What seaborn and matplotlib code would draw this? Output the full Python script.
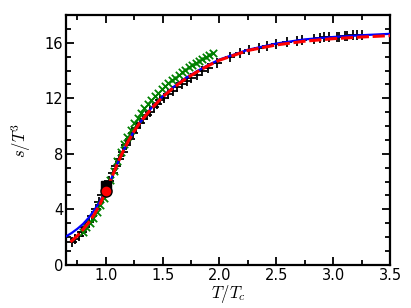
import numpy as np
import pandas as pd
import matplotlib
matplotlib.use("Agg")
import matplotlib.pyplot as plt
import seaborn as sns
from matplotlib.ticker import MultipleLocator

# ---- data ----
curve_T = [0.65, 0.70, 0.75, 0.80, 0.85, 0.90, 0.95, 1.00, 1.05, 1.10, 1.15, 1.20, 1.25, 1.30,
           1.40, 1.50, 1.60, 1.70, 1.80, 1.90, 2.00, 2.25, 2.50, 2.75, 3.00, 3.25, 3.50]
blue_s = [2.05, 2.30, 2.60, 2.95, 3.40, 3.95, 4.60, 5.35, 6.25, 7.25, 8.15, 8.95, 9.65, 10.25,
          11.30, 12.15, 12.85, 13.45, 13.95, 14.40, 14.80, 15.50, 15.95, 16.25, 16.42, 16.55, 16.65]
red_T = [0.69, 0.75, 0.80, 0.85, 0.90, 0.95, 1.00, 1.05, 1.10, 1.15, 1.20, 1.25, 1.30,
         1.40, 1.50, 1.60, 1.70, 1.80, 1.90, 2.00, 2.25, 2.50, 2.75, 3.00, 3.25, 3.50]
red_s = [1.65, 2.10, 2.55, 3.05, 3.65, 4.40, 5.30, 6.25, 7.25, 8.15, 8.95, 9.65, 10.25,
         11.25, 12.10, 12.80, 13.40, 13.90, 14.35, 14.75, 15.45, 15.85, 16.12, 16.30, 16.42, 16.52]

black_T = [0.70, 0.73, 0.76, 0.79, 0.82, 0.85, 0.88, 0.91, 0.94, 0.97, 1.00, 1.03, 1.06, 1.09,
           1.12, 1.15, 1.18, 1.21, 1.24, 1.27, 1.30, 1.33, 1.36, 1.39, 1.42, 1.45, 1.48, 1.51,
           1.55, 1.59, 1.63, 1.67, 1.71, 1.75, 1.80, 1.85, 1.90, 1.98, 2.09, 2.18, 2.26, 2.35,
           2.42, 2.50, 2.59, 2.68, 2.73, 2.83, 2.88, 2.92, 2.96, 3.03, 3.05, 3.10, 3.12, 3.17,
           3.21, 3.25]
black_s = [1.65, 1.85, 2.10, 2.40, 2.75, 3.10, 3.55, 4.05, 4.55, 5.05, 5.55, 6.05, 6.60, 7.10,
           7.65, 8.15, 8.65, 9.10, 9.50, 9.85, 10.20, 10.50, 10.80, 11.05, 11.35, 11.60, 11.85,
           12.05, 12.30, 12.55, 12.80, 13.05, 13.25, 13.45, 13.70, 13.95, 14.20, 14.55, 14.95,
           15.25, 15.45, 15.65, 15.80, 15.95, 16.05, 16.15, 16.20, 16.30, 16.35, 16.40, 16.40,
           16.45, 16.45, 16.50, 16.50, 16.55, 16.55, 16.55]

green_T = [0.80, 0.83, 0.86, 0.89, 0.92, 0.95, 0.98, 1.01, 1.04, 1.07, 1.10, 1.13, 1.16, 1.19,
           1.22, 1.25, 1.28, 1.31, 1.34, 1.37, 1.40, 1.43, 1.46, 1.49, 1.52, 1.55, 1.58, 1.61,
           1.64, 1.67, 1.70, 1.73, 1.76, 1.79, 1.82, 1.85, 1.88, 1.91, 1.94]
green_s = [2.40, 2.70, 3.00, 3.40, 3.80, 4.30, 4.85, 5.45, 6.10, 6.80, 7.45, 8.10, 8.70, 9.25,
           9.75, 10.20, 10.60, 10.95, 11.30, 11.60, 11.90, 12.15, 12.40, 12.65, 12.90, 13.10,
           13.30, 13.50, 13.70, 13.90, 14.05, 14.25, 14.40, 14.55, 14.70, 14.85, 15.00, 15.15,
           15.25]

square_pt = ([1.0], [5.65])
circle_pt = ([1.0], [5.35])

# ---- style ----
sns.set_style("ticks", {"xtick.direction": "in", "ytick.direction": "in",
                        "axes.edgecolor": "black", "text.color": "black",
                        "xtick.color": "black", "ytick.color": "black",
                        "axes.labelcolor": "black"})
plt.rcParams["font.family"] = ["DejaVu Sans"]
plt.rcParams["mathtext.fontset"] = "cm"

fig = plt.figure(figsize=(4.11, 3.08), dpi=100)
ax = fig.add_axes([0.1606, 0.140, 0.7884, 0.811])

sns.lineplot(x=curve_T, y=blue_s, ax=ax, color="blue", lw=1.6, sort=False, zorder=3)
sns.lineplot(x=red_T, y=red_s, ax=ax, color="red", lw=2.2, sort=False, zorder=4,
             linestyle=(0, (4, 1.2)))
sns.scatterplot(x=black_T, y=black_s, ax=ax, marker="+", color="black", s=45,
                linewidth=1.3, zorder=2)
sns.scatterplot(x=green_T, y=green_s, ax=ax, marker="x", color="green", s=28,
                linewidth=1.3, zorder=2)
ax.plot(*square_pt, marker="s", color="black", ms=7, ls="none", zorder=5)
ax.plot(*circle_pt, marker="o", color="red", mec="black", mew=1.0, ms=8, ls="none", zorder=6)

ax.set_xlim(0.65, 3.5)
ax.set_ylim(0, 18)
ax.xaxis.set_major_locator(MultipleLocator(0.5))
ax.xaxis.set_minor_locator(MultipleLocator(0.25))
ax.yaxis.set_major_locator(MultipleLocator(4))
ax.yaxis.set_minor_locator(MultipleLocator(1))
ax.set_xticks([1.0, 1.5, 2.0, 2.5, 3.0, 3.5])
ax.set_xticklabels(["1.0", "1.5", "2.0", "2.5", "3.0", "3.5"])
ax.set_yticks([0, 4, 8, 12, 16])
ax.set_yticklabels(["0", "4", "8", "12", "16"])
ax.tick_params(which="both", direction="in", top=True, right=True, labelsize=10.5,
               width=1.3, pad=2, colors="black")
ax.tick_params(which="major", length=6)
ax.tick_params(which="minor", length=3.5)
for sp in ax.spines.values():
    sp.set_linewidth(1.6)
    sp.set_color("black")

ax.set_xlabel(r"$T/T_c$", fontsize=12, labelpad=0, color="black")
ax.set_ylabel(r"$s/T^3$", fontsize=12, labelpad=8, color="black")

fig.savefig("out.png", dpi=100)
